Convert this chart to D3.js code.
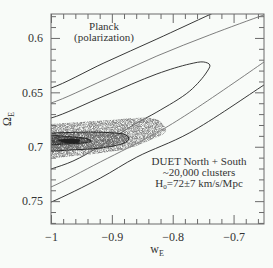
<!DOCTYPE html>
<html>
<head>
<meta charset="utf-8">
<script src="https://cdn.jsdelivr.net/npm/d3@7"></script>
<style>
  body { margin: 0; background: #f8fbf8; }
  text { font-family: "Liberation Serif", "DejaVu Serif", serif; fill: #333; }
</style>
</head>
<body>
<svg id="chart" width="273" height="268"></svg>
<script>
// axis setup
const xDomain = [-1, -0.65];
const yDomain = [0.578, 0.771];
const xMajor = [-1, -0.9, -0.8, -0.7];
const xTickLabels = ["\u22121", "\u22120.9", "\u22120.8", "\u22120.7"];
const yMajor = [0.6, 0.65, 0.7, 0.75];
const yTickLabels = ["0.6", "0.65", "0.7", "0.75"];
const xMinor = [-0.98, -0.96, -0.94, -0.92, -0.88, -0.86, -0.84, -0.82, -0.78, -0.76, -0.74, -0.72, -0.68, -0.66];
const yMinor = [0.58, 0.59, 0.61, 0.62, 0.63, 0.64, 0.66, 0.67, 0.68, 0.69, 0.71, 0.72, 0.73, 0.74, 0.76, 0.77];

// Planck (polarization) contours, [w_E, Omega_E]
const planck3Upper = [[-1.03, 0.649], [-1, 0.646], [-0.913, 0.623], [-0.826, 0.601], [-0.737, 0.578], [-0.69, 0.566]];
const planck2Upper = [[-1.03, 0.663], [-1, 0.6598], [-0.913, 0.6386], [-0.826, 0.6166], [-0.739, 0.5972], [-0.65, 0.5788], [-0.63, 0.575]];
const planck1 = [[-1.03, 0.676], [-1, 0.6736], [-0.913, 0.6534], [-0.826, 0.6331], [-0.772, 0.6239], [-0.749, 0.6221],
  [-0.739, 0.6248], [-0.744, 0.6313], [-0.772, 0.6488], [-0.826, 0.6681], [-0.862, 0.6791], [-0.919, 0.6994],
  [-0.964, 0.7132], [-1, 0.7205], [-1.03, 0.726]];
const planck2Lower = [[-1.03, 0.743], [-1, 0.737], [-0.919, 0.714], [-0.827, 0.6874], [-0.773, 0.669], [-0.65, 0.6221], [-0.63, 0.614]];
const planck3Lower = [[-1.03, 0.757], [-1, 0.7509], [-0.919, 0.7288], [-0.859, 0.7095], [-0.773, 0.6874], [-0.65, 0.6432], [-0.63, 0.636]];

// DUET North + South likelihood, [w_E, Omega_E]
const duetOuter = [[-1.03, 0.6791], [-1, 0.6791], [-0.952, 0.6773], [-0.903, 0.6754], [-0.862, 0.6736], [-0.837, 0.6736],
  [-0.824, 0.6754], [-0.814, 0.681], [-0.811, 0.6856], [-0.821, 0.6902], [-0.837, 0.6938], [-0.870, 0.7012],
  [-0.919, 0.7058], [-0.961, 0.7086], [-1, 0.7104], [-1.03, 0.7104]];
const duetMid = [[-1.03, 0.6874], [-1, 0.6874], [-0.936, 0.6865], [-0.895, 0.6874], [-0.877, 0.6892], [-0.872, 0.6929],
  [-0.880, 0.6966], [-0.919, 0.7012], [-0.969, 0.703], [-1, 0.704], [-1.03, 0.704]];
const duetInner = [[-1.03, 0.6911], [-0.961, 0.6911], [-0.939, 0.6929], [-0.934, 0.6948], [-0.946, 0.6966],
  [-0.977, 0.6975], [-1.03, 0.6975]];
const duetCore = [[-0.988, 0.6938], [-0.969, 0.6929], [-0.952, 0.6938], [-0.956, 0.6966], [-0.977, 0.6966]];

const margin = { top: 14, right: 9, bottom: 44, left: 51 };
const width = 273, height = 268;
const svg = d3.select("#chart");

const x = d3.scaleLinear().domain(xDomain).range([margin.left, width - margin.right]);
const y = d3.scaleLinear().domain(yDomain).range([margin.top, height - margin.bottom]);

const defs = svg.append("defs");
defs.append("clipPath").attr("id", "plotClip")
  .append("rect")
  .attr("x", margin.left).attr("y", margin.top)
  .attr("width", width - margin.left - margin.right)
  .attr("height", height - margin.top - margin.bottom);

// fine stipple texture for the DUET shading
[[3, 2.2, 3, -0.9], [11, 2.4, 3, -0.9], [23, 2.4, 3, -0.8]].forEach(([seed, freq, a, b], i) => {
  const f = defs.append("filter").attr("id", "speckle" + i)
    .attr("filterUnits", "userSpaceOnUse")
    .attr("x", 0).attr("y", 0).attr("width", width).attr("height", height);
  f.append("feTurbulence").attr("type", "fractalNoise").attr("baseFrequency", freq)
    .attr("numOctaves", 1).attr("seed", seed).attr("result", "noise");
  f.append("feColorMatrix").attr("in", "noise").attr("type", "matrix")
    .attr("values", `0 0 0 0 0  0 0 0 0 0  0 0 0 0 0  ${a} 0 0 0 ${b}`).attr("result", "mask");
  f.append("feComposite").attr("in", "SourceGraphic").attr("in2", "mask").attr("operator", "in");
});

const line = d3.line().x(d => x(d[0])).y(d => y(d[1])).curve(d3.curveCatmullRom);
const closed = d3.line().x(d => x(d[0])).y(d => y(d[1])).curve(d3.curveCatmullRomClosed);

const plot = svg.append("g").attr("clip-path", "url(#plotClip)");

// planck lines
const planckLines = [
  { pts: planck3Upper, color: "#222" },
  { pts: planck2Upper, color: "#707070" },
  { pts: planck1, color: "#222" },
  { pts: planck2Lower, color: "#707070" },
  { pts: planck3Lower, color: "#222" }
];
plot.selectAll(".planck").data(planckLines).enter()
  .append("path")
  .attr("class", "planck")
  .attr("d", d => line(d.pts))
  .attr("fill", "none")
  .attr("stroke", d => d.color)
  .attr("stroke-width", 0.9);

// duet shading
const duet = plot.append("g");
duet.append("path").attr("d", closed(duetOuter)).attr("fill", "#8a8a8a").attr("filter", "url(#speckle0)");
duet.append("path").attr("d", closed(duetMid)).attr("fill", "#6a6a6a").attr("filter", "url(#speckle1)");
duet.append("path").attr("d", closed(duetInner)).attr("fill", "#444").attr("filter", "url(#speckle2)");
duet.append("path").attr("d", closed(duetCore)).attr("fill", "#222");
duet.append("path").attr("d", closed(duetMid)).attr("fill", "none").attr("stroke", "#1a1a1a").attr("stroke-width", 0.9);
duet.append("path").attr("d", closed(duetInner)).attr("fill", "none").attr("stroke", "#1a1a1a").attr("stroke-width", 0.8);

// annotations
const ann = svg.append("g").attr("font-size", 11).attr("text-anchor", "middle");
ann.append("text").attr("x", 104).attr("y", 30).text("Planck");
ann.append("text").attr("x", 104).attr("y", 41).text("(polarization)");
ann.append("text").attr("x", 199).attr("y", 165).text("DUET North + South");
ann.append("text").attr("x", 199).attr("y", 175.5).text("~20,000 clusters");
const h0 = ann.append("text").attr("x", 199).attr("y", 186.5);
h0.append("tspan").text("H");
h0.append("tspan").attr("font-size", 7).attr("dy", 2).text("0");
h0.append("tspan").attr("dy", -2).text("=72\u00b17 km/s/Mpc");

// axes
const axisColor = "#6a6a6a";
function styleAxis(g) {
  g.select(".domain").remove();
  g.selectAll(".tick line").attr("stroke", axisColor);
  g.selectAll("text").attr("fill", "#333").attr("font-family", "Liberation Serif, DejaVu Serif, serif").attr("font-size", 12);
}
const bottomY = height - margin.bottom, rightX = width - margin.right;

svg.append("g").attr("transform", `translate(0,${bottomY})`)
  .call(d3.axisBottom(x).tickValues(xMinor).tickSize(-5).tickFormat("")).call(styleAxis);
svg.append("g").attr("transform", `translate(0,${bottomY})`)
  .call(d3.axisBottom(x).tickValues(xMajor).tickSize(-9).tickPadding(8.5)
    .tickFormat((d, i) => xTickLabels[i])).call(styleAxis);
svg.append("g").attr("transform", `translate(0,${margin.top})`)
  .call(d3.axisTop(x).tickValues(xMinor).tickSize(-5).tickFormat("")).call(styleAxis);
svg.append("g").attr("transform", `translate(0,${margin.top})`)
  .call(d3.axisTop(x).tickValues(xMajor).tickSize(-9).tickFormat("")).call(styleAxis);

svg.append("g").attr("transform", `translate(${margin.left},0)`)
  .call(d3.axisLeft(y).tickValues(yMinor).tickSize(-5).tickFormat("")).call(styleAxis);
svg.append("g").attr("transform", `translate(${margin.left},0)`)
  .call(d3.axisLeft(y).tickValues(yMajor).tickSize(-9).tickPadding(8)
    .tickFormat((d, i) => yTickLabels[i])).call(styleAxis);
svg.append("g").attr("transform", `translate(${rightX},0)`)
  .call(d3.axisRight(y).tickValues(yMinor).tickSize(-5).tickFormat("")).call(styleAxis);
svg.append("g").attr("transform", `translate(${rightX},0)`)
  .call(d3.axisRight(y).tickValues(yMajor).tickSize(-9).tickFormat("")).call(styleAxis);

// frame
svg.append("rect")
  .attr("x", margin.left).attr("y", margin.top)
  .attr("width", rightX - margin.left).attr("height", bottomY - margin.top)
  .attr("fill", "none").attr("stroke", axisColor).attr("stroke-width", 1);

// axis titles
const xt = svg.append("text").attr("x", 157).attr("y", 253).attr("text-anchor", "middle").attr("font-size", 12);
xt.append("tspan").text("w");
xt.append("tspan").attr("font-size", 8).attr("dy", 3).text("E");
const yt = svg.append("text").attr("transform", "translate(11,119) rotate(-90)").attr("text-anchor", "middle").attr("font-size", 12);
yt.append("tspan").text("\u03a9");
yt.append("tspan").attr("font-size", 8).attr("dy", 3).text("E");
</script>
</body>
</html>
